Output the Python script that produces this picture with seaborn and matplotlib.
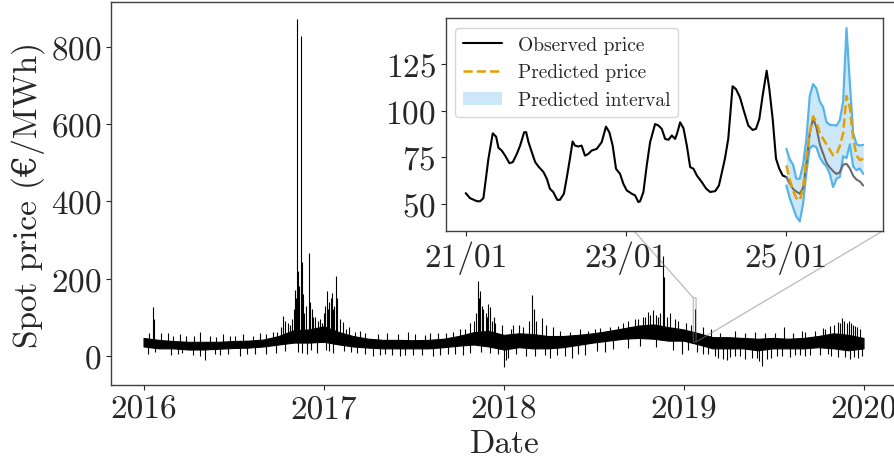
import numpy as np
import pandas as pd
import matplotlib
matplotlib.use('Agg')
import matplotlib.pyplot as plt
import matplotlib.dates as mdates
from matplotlib.ticker import MultipleLocator
from matplotlib.lines import Line2D
from matplotlib.patches import Patch
import seaborn as sns

sns.set_style('ticks')
plt.rcParams['font.family'] = ['cmr10', 'DejaVu Serif']
plt.rcParams['mathtext.fontset'] = 'cm'
plt.rcParams['axes.formatter.use_mathtext'] = True
plt.rcParams['axes.edgecolor'] = '0.25'
plt.rcParams['axes.linewidth'] = 1.0

# ---- hourly spot price 2016-2019: monthly envelope of the dense band ----
band_dates = pd.date_range('2016-01-01', '2020-01-01', freq='MS')
band_low = [24, 19, 19, 16, 16, 18, 20, 21, 24, 29, 34, 34,
            36, 29, 24, 21, 19, 19, 19, 19, 22, 26, 29, 24,
            16, 22, 19, 19, 22, 28, 34, 39, 44, 46, 44, 39,
            39, 29, 19, 19, 19, 14, 19, 19, 19, 22, 19, 14,
            19]
band_high = [46, 41, 38, 36, 36, 36, 38, 39, 42, 51, 66, 68,
             76, 61, 51, 44, 41, 41, 40, 41, 44, 51, 61, 64,
             54, 58, 56, 51, 51, 54, 58, 64, 71, 78, 81, 74,
             68, 58, 48, 48, 46, 44, 46, 44, 46, 51, 58, 54,
             46]

# price spikes above the band
spike_dates = ['2016-01-12', '2016-01-20', '2016-01-23', '2016-02-05', '2016-02-20',
               '2016-03-01', '2016-03-15', '2016-03-28', '2016-04-12', '2016-04-25',
               '2016-05-15', '2016-05-28', '2016-06-10', '2016-06-25', '2016-07-05',
               '2016-07-20', '2016-08-10', '2016-08-25', '2016-09-05', '2016-09-20',
               '2016-09-28', '2016-10-05', '2016-10-11', '2016-10-15', '2016-10-20',
               '2016-10-25', '2016-10-28', '2016-11-01', '2016-11-04', '2016-11-06',
               '2016-11-08', '2016-11-10', '2016-11-12', '2016-11-15', '2016-11-17',
               '2016-11-20', '2016-11-22', '2016-11-25', '2016-12-01', '2016-12-04',
               '2016-12-08', '2016-12-10', '2016-12-14', '2016-12-20', '2016-12-25',
               '2016-12-28', '2017-01-02', '2017-01-04', '2017-01-07', '2017-01-09',
               '2017-01-12', '2017-01-15', '2017-01-17', '2017-01-19', '2017-01-22',
               '2017-01-25', '2017-01-28', '2017-02-03', '2017-02-08', '2017-02-14',
               '2017-02-20', '2017-03-05', '2017-03-15', '2017-03-25', '2017-04-20',
               '2017-05-10', '2017-06-01', '2017-06-20', '2017-07-05', '2017-07-25',
               '2017-08-05', '2017-08-20', '2017-09-05', '2017-09-20', '2017-10-05',
               '2017-10-15', '2017-10-25', '2017-11-01', '2017-11-05', '2017-11-09',
               '2017-11-12', '2017-11-14', '2017-11-18', '2017-11-20', '2017-11-25',
               '2017-11-28', '2017-12-01', '2017-12-05', '2017-12-08', '2017-12-12',
               '2017-12-15', '2017-12-28', '2018-01-15', '2018-01-20', '2018-02-01',
               '2018-02-10', '2018-02-22', '2018-02-28', '2018-03-03', '2018-03-08',
               '2018-03-20', '2018-03-28', '2018-04-10', '2018-04-25', '2018-05-15',
               '2018-06-05', '2018-06-20', '2018-07-05', '2018-07-15', '2018-08-05',
               '2018-08-20', '2018-08-30', '2018-09-10', '2018-09-25', '2018-10-01',
               '2018-10-10', '2018-10-15', '2018-10-20', '2018-10-25', '2018-10-31',
               '2018-11-05', '2018-11-10', '2018-11-15', '2018-11-20', '2018-11-22',
               '2018-11-28', '2018-12-05', '2018-12-14', '2018-12-20', '2019-01-05',
               '2019-01-15', '2019-01-24', '2019-02-10', '2019-02-25', '2019-03-15',
               '2019-04-15', '2019-05-05', '2019-05-25', '2019-06-15', '2019-07-05',
               '2019-07-23', '2019-08-10', '2019-08-30', '2019-09-05', '2019-09-25',
               '2019-10-10', '2019-10-15', '2019-10-25', '2019-11-02', '2019-11-10',
               '2019-11-14', '2019-11-18', '2019-11-22', '2019-11-28', '2019-12-02',
               '2019-12-06', '2019-12-10', '2019-12-14', '2019-12-18', '2019-12-24']
spike_price = [60, 127, 95, 58, 60,
               52, 55, 50, 52, 62,
               50, 48, 55, 50, 52,
               55, 52, 58, 56, 62,
               62, 75, 104, 90, 85,
               80, 95, 120, 170, 150,
               873, 220, 180, 828, 243,
               160, 110, 130, 266, 140,
               120, 100, 100, 90, 95,
               85, 110, 130, 169, 120,
               140, 150, 162, 120, 130,
               206, 150, 95, 87, 70,
               75, 62, 65, 58, 55,
               58, 56, 62, 55, 54,
               58, 58, 60, 62, 70,
               70, 85, 90, 110, 193,
               150, 169, 130, 120, 110,
               100, 134, 125, 90, 100,
               85, 80, 70, 80, 80,
               75, 90, 158, 120, 90,
               97, 80, 75, 65, 62,
               68, 65, 68, 72, 75,
               78, 85, 90, 95, 95,
               100, 100, 113, 105, 119,
               105, 100, 110, 259, 203,
               100, 110, 95, 90, 85,
               80, 121, 75, 70, 60,
               65, 58, 62, 60, 60,
               74, 58, 65, 62, 65,
               72, 70, 78, 80, 87,
               85, 97, 90, 85, 91,
               85, 80, 78, 75, 70]

# price dips below the band
dip_dates = ['2016-01-10', '2016-01-25', '2016-02-25', '2016-03-10', '2016-03-20',
             '2016-04-10', '2016-04-25', '2016-05-05', '2016-05-25', '2016-06-05',
             '2016-06-20', '2016-07-15', '2016-07-28', '2016-08-15', '2016-09-05',
             '2016-09-25', '2016-10-15', '2016-11-10', '2016-11-18', '2016-11-28',
             '2016-12-05', '2016-12-18', '2017-01-05', '2017-01-12', '2017-01-20',
             '2017-02-10', '2017-02-25', '2017-03-10', '2017-03-25', '2017-04-10',
             '2017-04-25', '2017-05-05', '2017-05-20', '2017-06-05', '2017-06-15',
             '2017-07-01', '2017-07-20', '2017-08-10', '2017-08-25', '2017-09-10',
             '2017-09-25', '2017-10-10', '2017-10-25', '2017-11-15', '2017-12-05',
             '2017-12-20', '2018-01-01', '2018-01-05', '2018-01-10', '2018-01-25',
             '2018-02-15', '2018-03-05', '2018-03-25', '2018-04-05', '2018-04-20',
             '2018-05-05', '2018-05-20', '2018-06-01', '2018-06-15', '2018-07-10',
             '2018-07-25', '2018-08-10', '2018-09-10', '2018-10-05', '2018-11-05',
             '2018-12-10', '2018-12-28', '2019-01-10', '2019-01-28', '2019-02-10',
             '2019-02-20', '2019-03-05', '2019-03-12', '2019-03-22', '2019-03-29',
             '2019-04-05', '2019-04-15', '2019-04-25', '2019-05-05', '2019-05-20',
             '2019-05-30', '2019-06-02', '2019-06-09', '2019-06-20', '2019-06-28',
             '2019-07-10', '2019-07-20', '2019-08-05', '2019-08-15', '2019-08-25',
             '2019-09-05', '2019-09-15', '2019-10-05', '2019-10-20', '2019-10-28',
             '2019-11-10', '2019-11-25', '2019-12-05', '2019-12-12', '2019-12-20',
             '2019-12-28']
dip_price = [5, 10, 3, 5, 8,
             2, 0, -11, 5, 3,
             4, 0, 5, 5, 5,
             8, 12, 10, 8, 5,
             15, 8, 15, 12, 8,
             12, 10, 8, 5, 0,
             3, 5, 3, 0, 2,
             3, 2, 0, 3, 5,
             5, 3, 8, 10, 8,
             5, -30, -10, -5, 5,
             0, 0, 3, -5, 2,
             0, -5, 5, 2, 12,
             10, 18, 20, 25, 22,
             15, 5, 15, 10, 5,
             5, 0, -5, -9, -10,
             -3, 0, -2, -8, -5,
             -5, -15, -26, -8, -5,
             0, 0, -3, 3, 2,
             0, 2, 3, 5, 0,
             -3, -3, -8, -3, -5,
             0]

# ---- zoom window: 21/01/2019 - 25/01/2019, hours from 21/01 00:00 ----
hist_hours = [0.0, 1.3, 3.3, 4.3, 5.3, 6.8, 8.1, 9.1, 9.8, 10.8, 11.8, 13.1, 14.1,
              15.3, 16.3, 17.5, 18.1, 18.8, 19.8, 20.8, 21.8, 23.3, 24.3, 25.2,
              26.2, 27.4, 28.2, 29.4, 30.2, 31.2, 32.0, 32.7, 33.7, 34.7, 35.7,
              36.7, 37.7, 39.2, 40.7, 42.0, 43.0, 44.0, 45.0, 46.2, 47.2, 48.2,
              49.7, 50.7, 51.7, 52.2, 53.2, 54.2, 55.2, 56.7, 57.7, 58.7, 59.7,
              60.7, 61.7, 62.7, 63.4, 64.2, 65.2, 66.2, 67.2, 68.2, 69.2, 70.7,
              72.0, 73.2, 74.7, 75.8, 76.6, 77.6, 78.6, 79.9, 80.9, 82.1, 83.1,
              84.6, 85.9, 86.9, 87.9, 88.9, 90.1, 90.9, 91.9, 92.9, 93.9, 94.9, 96.0]
hist_price = [55.7, 53.0, 51.4, 51.3, 53.0, 74.2, 87.9, 86.1, 80.1, 78.6, 75.9, 71.8, 72.4,
              76.8, 81.3, 88.5, 88.5, 83.1, 77.7, 72.4, 70.0, 67.0, 63.4, 58.1,
              56.3, 52.1, 52.1, 55.4, 63.4, 74.2, 83.5, 81.3, 80.8, 81.3, 75.9,
              76.8, 78.6, 79.5, 83.1, 91.5, 88.5, 81.3, 68.8, 66.1, 60.7, 57.2,
              55.4, 54.5, 50.9, 51.3, 56.3, 70.6, 83.1, 92.9, 92.1, 90.3, 84.9,
              84.4, 86.7, 84.9, 88.5, 93.8, 90.6, 81.3, 69.7, 68.8, 65.2, 61.6,
              58.1, 56.3, 56.8, 59.8, 66.1, 74.2, 84.9, 113.2, 111.7, 107.3, 101.0,
              92.1, 89.7, 90.3, 95.6, 108.2, 121.6, 111.7, 95.6, 74.2, 68.8, 65.2, 64.3]

fc_hours = list(range(96, 120))
fc_actual = [64.3, 61, 58, 56.5, 55.4, 58.5, 72, 88, 96, 91, 82, 77,
             72, 69.5, 67.5, 66, 67, 71, 71.5, 69, 65, 63, 62, 59.8]
fc_pred = [70.6, 63, 57, 53, 51.8, 58, 75, 88.5, 97, 94, 88, 85,
           82, 79, 76, 76.8, 81, 88, 108, 102, 85, 76, 73.5, 74.2]
fc_low = [59.8, 53, 48, 43, 40.5, 50, 67, 80, 81.3, 80.4, 75, 72,
          70, 66, 59, 63.4, 64.5, 75.5, 74.5, 82, 70, 68, 69, 66.1]
fc_high = [79.5, 74, 71, 63.5, 63.4, 71, 85, 108, 114.4, 112, 105, 102,
           94, 92.4, 92.4, 92, 95, 105, 144.5, 115, 88, 82, 81.3, 81.7]

blue = '#56B4E9'
orange = '#E69F00'

fig = plt.figure(figsize=(8.94, 4.64), dpi=100)
ax = fig.add_axes([111 / 894, 78 / 464, 788 / 894, 383 / 464])

# spikes start from the middle of the band so they stay attached to it
band_num = mdates.date2num(band_dates)
band_mid = (np.array(band_low) + np.array(band_high)) / 2
spike_t = pd.to_datetime(spike_dates)
dip_t = pd.to_datetime(dip_dates)
spike_base = np.interp(mdates.date2num(spike_t), band_num, band_mid)
dip_base = np.interp(mdates.date2num(dip_t), band_num, band_mid)

ax.fill_between(band_dates, band_low, band_high, color='black', lw=0.8)
ax.vlines(spike_t, spike_base, spike_price, color='black', lw=0.8)
ax.vlines(dip_t, dip_base, dip_price, color='black', lw=0.8)

ax.set_xlim(pd.Timestamp('2015-10-27'), pd.Timestamp('2020-03-13'))
ax.set_ylim(-76, 917)
ax.xaxis.set_major_locator(mdates.YearLocator())
ax.xaxis.set_major_formatter(mdates.DateFormatter('%Y'))
ax.yaxis.set_major_locator(MultipleLocator(200))
ax.tick_params(labelsize=24)
ax.set_xlabel('Date', fontsize=24)
ax.set_ylabel('Spot price (€/MWh)', fontsize=24)

# ---- inset ----
axins = ax.inset_axes([0.4247, 0.4029, 0.5553, 0.5546])
t0 = pd.Timestamp('2019-01-21')
hist_t = t0 + pd.to_timedelta(hist_hours, unit='h')
fc_t = t0 + pd.to_timedelta(fc_hours, unit='h')

axins.fill_between(fc_t, fc_low, fc_high, color=blue, alpha=0.3, lw=0)
sns.lineplot(x=fc_t, y=fc_low, ax=axins, color=blue, lw=1.6)
sns.lineplot(x=fc_t, y=fc_high, ax=axins, color=blue, lw=1.6)
sns.lineplot(x=hist_t, y=hist_price, ax=axins, color='black', lw=1.5)
sns.lineplot(x=fc_t, y=fc_actual, ax=axins, color='0.42', lw=1.5)
sns.lineplot(x=fc_t, y=fc_pred, ax=axins, color=orange, lw=1.8, linestyle='--')

axins.set_xlim(pd.Timestamp('2019-01-20 18:00'), pd.Timestamp('2019-01-26 05:00'))
axins.set_ylim(35.5, 149.8)
axins.xaxis.set_major_locator(mdates.DayLocator(bymonthday=[21, 23, 25]))
axins.xaxis.set_major_formatter(mdates.DateFormatter('%d/%m'))
axins.yaxis.set_major_locator(MultipleLocator(25))
axins.tick_params(labelsize=24)
axins.set_xlabel('')
axins.set_ylabel('')

handles = [Line2D([], [], color='black', lw=1.5),
           Line2D([], [], color=orange, lw=1.8, linestyle='--'),
           Patch(facecolor=blue, alpha=0.3, lw=0)]
axins.legend(handles, ['Observed price', 'Predicted price', 'Predicted interval'],
             loc='upper left', fontsize=14)

ax.indicate_inset_zoom(axins, edgecolor='0.5')

fig.savefig('out.png', dpi=100)
